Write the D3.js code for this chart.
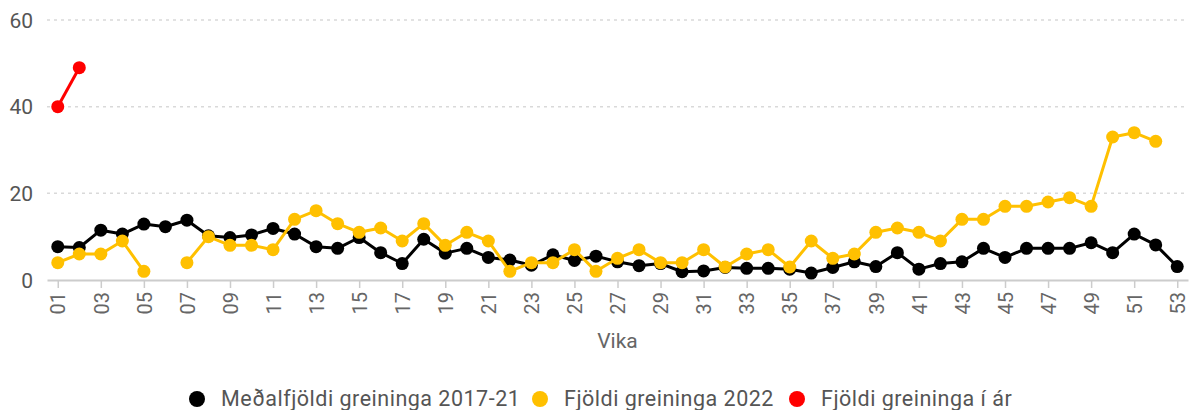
<!DOCTYPE html>
<html lang="is">
<head>
<meta charset="UTF-8">
<title>Greiningar eftir vikum</title>
<script src="https://d3js.org/d3.v7.min.js"></script>
<style>
  body { margin: 0; background: #fff; }
  svg text { font-family: Roboto, "Liberation Sans", sans-serif; fill: #666; }
</style>
</head>
<body>
<div id="chart"></div>
<script>
// weeks 01..53
const weeks = d3.range(1, 54).map(w => String(w).padStart(2, "0"));

// Meðalfjöldi greininga 2017-21
const avg1721 = [7.7, 7.5, 11.5, 10.6, 12.9, 12.3, 13.8, 10.2, 9.8, 10.4,
  11.9, 10.6, 7.7, 7.3, 9.8, 6.3, 3.8, 9.4, 6.2, 7.3,
  5.2, 4.6, 3.4, 5.8, 4.5, 5.5, 4.2, 3.3, 3.8, 1.9,
  2.1, 2.9, 2.7, 2.7, 2.5, 1.6, 2.9, 4.2, 3.1, 6.3,
  2.5, 3.8, 4.2, 7.3, 5.2, 7.3, 7.3, 7.3, 8.6, 6.3,
  10.6, 8.1, 3.1];

// Fjöldi greininga 2022 (null = vantar)
const count2022 = [4, 6, 6, 9, 2, null, 4, 10, 8, 8,
  7, 14, 16, 13, 11, 12, 9, 13, 8, 11,
  9, 2, 4, 4, 7, 2, 5, 7, 4, 4,
  7, 3, 6, 7, 3, 9, 5, 6, 11, 12,
  11, 9, 14, 14, 17, 17, 18, 19, 17, 33,
  34, 32, null];

// Fjöldi greininga í ár
const countThisYear = [40, 49];

const yTicks = [0, 20, 40, 60];

const seriesNames = ["Meðalfjöldi greininga 2017-21", "Fjöldi greininga 2022", "Fjöldi greininga í ár"];
const seriesColors = ["#000000", "#ffc000", "#ff0000"];
const seriesValues = [avg1721, count2022, countThisYear];

const width = 1197, height = 410;
const margin = { top: 20, right: 9, bottom: 130, left: 47 };

const svg = d3.select("#chart").append("svg")
  .attr("width", width)
  .attr("height", height);

const x = d3.scalePoint()
  .domain(weeks)
  .range([margin.left, width - margin.right])
  .padding(0.5);

const y = d3.scaleLinear()
  .domain([0, 60])
  .range([height - margin.bottom, margin.top]);

// gridlines
svg.append("g")
  .selectAll("line")
  .data(yTicks.filter(d => d > 0))
  .join("line")
  .attr("x1", margin.left)
  .attr("x2", width - margin.right)
  .attr("y1", d => y(d))
  .attr("y2", d => y(d))
  .attr("stroke", "#d9d9d9")
  .attr("stroke-width", 1.5)
  .attr("stroke-dasharray", "3,4");

// y axis labels
svg.append("g")
  .selectAll("text")
  .data(yTicks)
  .join("text")
  .attr("x", margin.left - 14)
  .attr("y", d => y(d))
  .attr("dy", "0.36em")
  .attr("text-anchor", "end")
  .style("font-size", "21px")
  .style("fill", "#555")
  .text(d => d);

// x axis
const xAxis = d3.axisBottom(x)
  .tickValues(weeks.filter((d, i) => i % 2 === 0))
  .tickSizeInner(8)
  .tickSizeOuter(0)
  .tickPadding(6);

const gx = svg.append("g")
  .attr("transform", `translate(0,${y(0)})`)
  .call(xAxis);
gx.select(".domain").attr("stroke", "#ccc").attr("stroke-width", 2);
gx.selectAll(".tick line").attr("stroke", "#ccc").attr("stroke-width", 1.5);
gx.selectAll(".tick text")
  .attr("transform", "rotate(-90)")
  .attr("x", -12)
  .attr("y", 0)
  .attr("dy", "0.36em")
  .attr("text-anchor", "end")
  .style("font-size", "20px")
  .style("fill", "#666");

svg.append("text")
  .attr("x", (margin.left + width - margin.right) / 2)
  .attr("y", 348)
  .attr("text-anchor", "middle")
  .style("font-size", "21px")
  .text("Vika");

// series lines + markers
const line = d3.line()
  .defined(d => d != null)
  .x((d, i) => x(weeks[i]))
  .y(d => y(d));

seriesValues.forEach((vals, s) => {
  const g = svg.append("g");
  g.append("path")
    .datum(vals)
    .attr("fill", "none")
    .attr("stroke", seriesColors[s])
    .attr("stroke-width", 3)
    .attr("stroke-linejoin", "round")
    .attr("d", line);
  g.selectAll("circle")
    .data(vals.map((v, i) => ({ v, w: weeks[i] })).filter(d => d.v != null))
    .join("circle")
    .attr("cx", d => x(d.w))
    .attr("cy", d => y(d.v))
    .attr("r", 6.5)
    .attr("fill", seriesColors[s]);
});

// legend
const legendX = [197, 540, 797];
const legend = svg.append("g");
seriesNames.forEach((name, i) => {
  legend.append("circle")
    .attr("cx", legendX[i])
    .attr("cy", 399)
    .attr("r", 8)
    .attr("fill", seriesColors[i]);
  legend.append("text")
    .attr("x", legendX[i] + 24)
    .attr("y", 406)
    .style("font-size", "21.5px")
    .style("letter-spacing", "0.5px")
    .style("fill", "#555")
    .text(name);
});
</script>
</body>
</html>
